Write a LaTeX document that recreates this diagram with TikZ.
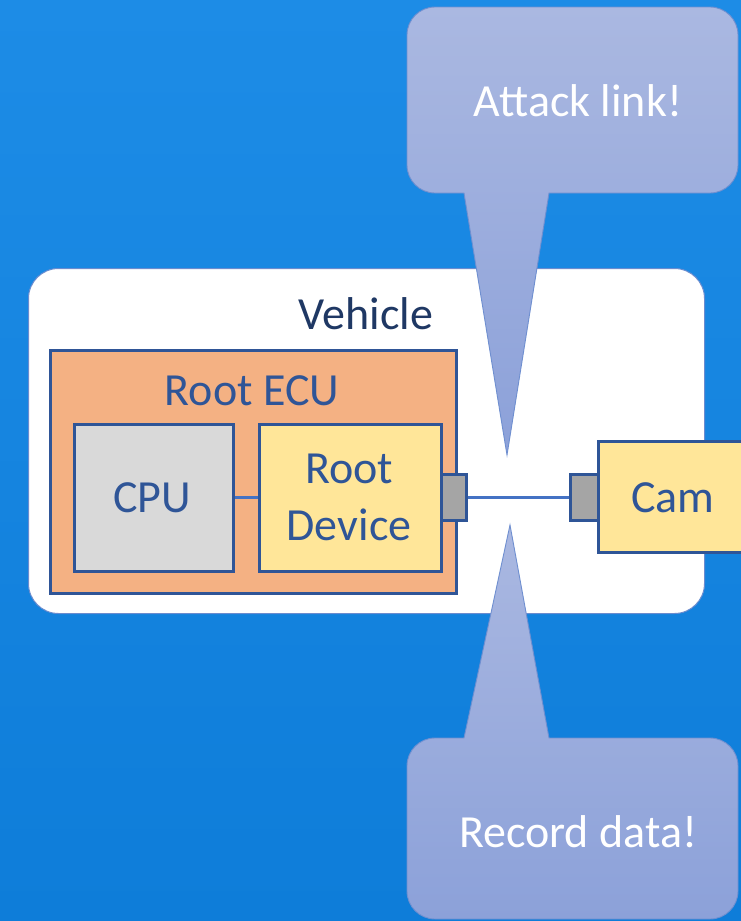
\documentclass[tikz,border=0pt]{standalone}
\usepackage{fontspec}
\setmainfont{Carlito}
\definecolor{bgtop}{HTML}{1D8CE6}
\definecolor{bgbot}{HTML}{0E7DD9}
\definecolor{boxline}{HTML}{2F5597}
\definecolor{txtblue}{HTML}{2F5597}
\definecolor{navy}{HTML}{1F3864}
\definecolor{ecufill}{HTML}{F4B183}
\definecolor{cpufill}{HTML}{D9D9D9}
\definecolor{devfill}{HTML}{FFE699}
\definecolor{portfill}{HTML}{A5A5A5}
\definecolor{linkline}{HTML}{4472C4}
\definecolor{vehline}{HTML}{6A8CCF}
\definecolor{calltop}{HTML}{AAB8E1}
\definecolor{callbot}{HTML}{8CA1D9}
\definecolor{callline}{HTML}{6F8FD0}
\begin{document}
\begin{tikzpicture}[x=1pt,y=-1pt,
  bigfont/.style={font=\fontsize{46}{57}\selectfont},
  box/.style={draw=boxline, line width=2.5pt, anchor=north west, inner sep=0pt},
  vehbox/.style={draw=vehline, line width=1pt, fill=white, rounded corners=30pt,
    anchor=north west, inner sep=0pt},
  portbox/.style={box, fill=portfill},
  lbl/.style={bigfont, text=txtblue, inner sep=0pt, anchor=base},
  calloutlbl/.style={bigfont, text=white, inner sep=0pt, anchor=base},
  wire/.style={draw=linkline, line width=3pt},
  callout/.style={draw=callline, line width=0.9pt, top color=calltop, bottom color=callbot}
]
\useasboundingbox (0,0) rectangle (741,921);
% background
\fill[top color=bgtop, bottom color=bgbot] (0,0) rectangle (741,921);

% vehicle frame
\node[vehbox, minimum width=676pt, minimum height=345pt] (vehicle) at (28,268) {};
\node[lbl, text=navy] (vehlabel) at (366,329) {Vehicle};

% root ECU with CPU and root device
\node[box, fill=ecufill, minimum width=406pt, minimum height=243pt] (ecu) at (49,349) {};
\node[lbl] (eculabel) at (252,405) {Root ECU};
\node[box, fill=cpufill, minimum width=159pt, minimum height=147pt] (cpu) at (73,423) {};
\node[lbl] (cpulabel) at (152,512) {CPU};
\node[box, fill=devfill, minimum width=182pt, minimum height=147pt] (rootdev) at (258,423) {};
\node[lbl] (rootlabel) at (349,483) {Root};
\node[lbl] (devlabel) at (349,540) {Device};
\draw[wire] (cpu.east) -- (rootdev.west);

% ports and camera
\node[portbox, minimum width=25pt, minimum height=46pt] (port1) at (440,473) {};
\node[box, fill=devfill, minimum width=160pt, minimum height=111pt] (cam) at (597,440) {};
\node[lbl] (camlabel) at (673,512) {Cam};
\node[portbox, minimum width=28pt, minimum height=46pt] (port2) at (569,473) {};
\draw[wire] (port1.east) -- (port2.west);

% callouts: rounded body, sharp pointer
\coordinate (tiptop) at (507,455);
\coordinate (tipbot) at (510,525);
\path[callout] (573,7) [rounded corners=28pt] -- (738,7) -- (738,193)
  [sharp corners] -- (549,193) -- (tiptop) -- (464,193)
  [rounded corners=28pt] -- (407,193) -- (407,7) [sharp corners] -- cycle;
\node[calloutlbl] (attack) at (578,116) {Attack link!};

\path[callout] (573,919) [rounded corners=28pt] -- (407,919) -- (407,738)
  [sharp corners] -- (464,738) -- (tipbot) -- (549,738)
  [rounded corners=28pt] -- (738,738) -- (738,919) [sharp corners] -- cycle;
\node[calloutlbl] (record) at (578,847) {Record data!};
\end{tikzpicture}
\end{document}
